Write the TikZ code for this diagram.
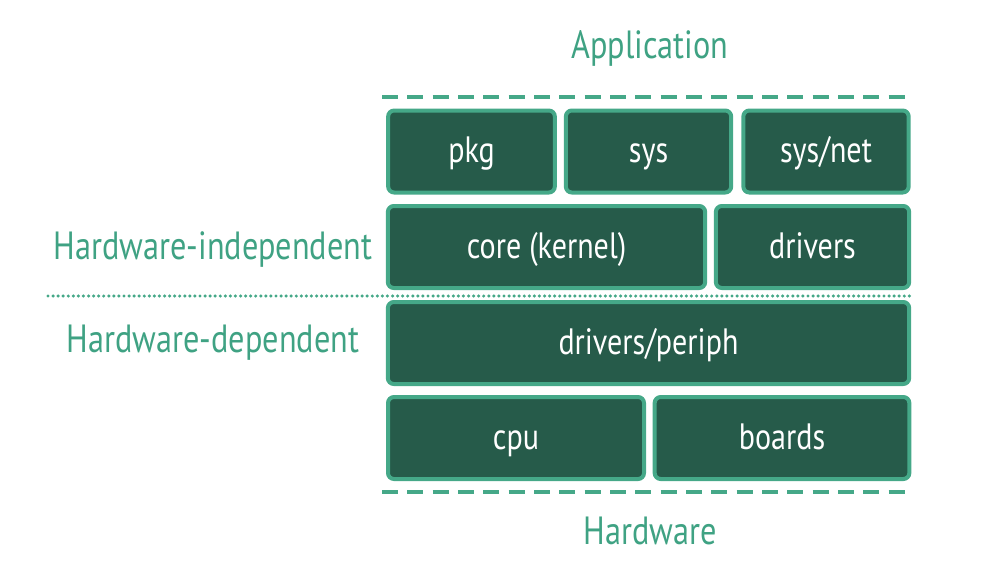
\documentclass[tikz,border=0pt]{standalone}
\usepackage{fontspec}
\setmainfont{PT Sans}[FakeStretch=0.82]
\usepackage{tikz}
\usetikzlibrary{positioning}
\definecolor{layerfill}{HTML}{265B4A}
\definecolor{layerline}{HTML}{45A888}
\definecolor{labelgreen}{HTML}{3FA283}
\tikzstyle{layer} = [draw=layerline, fill=layerfill, rectangle, line width=3pt,
    rounded corners=4.5pt, text=white, font=\fontsize{27.5}{32}\selectfont,
    minimum height=61.5pt, inner sep=0pt, text height=20pt, text depth=3.5pt]
\tikzstyle{side} = [text=labelgreen, font=\fontsize{29.5}{34}\selectfont,
    anchor=base, inner sep=0pt]
\tikzstyle{boundary} = [draw=layerline, line width=3pt, dash pattern=on 12pt off 7pt]
\tikzstyle{split} = [draw=layerline, line width=2.6pt, line cap=round, dash pattern=on 0pt off 3.8pt]

\begin{document}
\begin{tikzpicture}[x=0.75pt, y=-0.75pt]
	\useasboundingbox (0,0) rectangle (1000,587);

	% Top row
	\node [layer, minimum width=125pt] (pkg) at (471.5,151.5) {pkg};
	\node [layer, minimum width=124pt] (sys) at (648.5,151.5) {sys};
	\node [layer, minimum width=124pt] (net) at (826,151.5) {sys/net};

	% Kernel row
	\node [layer, minimum width=238pt] (core) at (546.5,247) {core (kernel)};
	\node [layer, minimum width=145pt] (drv) at (812.5,247) {drivers};

	% Peripheral drivers
	\node [layer, minimum width=391pt] (periph) at (648.5,343) {drivers/periph};

	% Bottom row
	\node [layer, minimum width=192pt] (cpu) at (516,438) {cpu};
	\node [layer, minimum width=191pt] (boards) at (782,438) {boards};

	% Side labels (placed on their baselines)
	\node [side] (app) at (650,58) {Application};
	\node [side] (hw) at (650,544) {Hardware};
	\node [side] (indep) at (213,259) {Hardware-independent};
	\node [side] (dep) at (213,352) {Hardware-dependent};

	% Boundaries
	\coordinate (topL) at (382,97);
	\coordinate (topR) at (912,97);
	\coordinate (botL) at (382,492);
	\coordinate (botR) at (912,492);
	\coordinate (midL) at (48,296);
	\coordinate (midR) at (910,296);
	\draw [boundary] (topL) -- (topR);
	\draw [boundary] (botL) -- (botR);
	\draw [split] (midL) -- (midR);
\end{tikzpicture}
\end{document}
